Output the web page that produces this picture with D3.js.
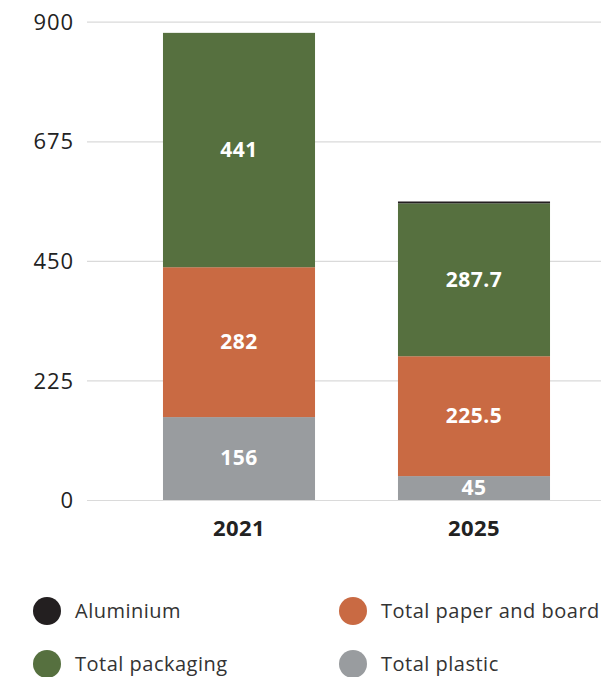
<!DOCTYPE html>
<html>
<head>
<meta charset="utf-8">
<script src="https://cdn.jsdelivr.net/npm/d3@7/dist/d3.min.js"></script>
<style>
  html, body { margin: 0; padding: 0; background: #fff; }
  svg { display: block; }
  text { font-family: "Open Sans", "Noto Sans", sans-serif; }
</style>
</head>
<body>
<svg id="chart" width="601" height="677"></svg>
<script>
// Packaging waste by material (stacked), two reporting years
const years = ["2021", "2025"];
const seriesNames = ["Total plastic", "Total paper and board", "Total packaging", "Aluminium"];
const plastic = [156, 45];
const paper = [282, 225.5];
const packaging = [441, 287.7];
const aluminium = [0, 3.5];
const yTicks = [0, 225, 450, 675, 900];
const colors = ["#999c9f", "#c96a43", "#56703f", "#231f20"];
const legendOrder = ["Aluminium", "Total paper and board", "Total packaging", "Total plastic"];

const svg = d3.select("#chart");

const rows = years.map((yr, i) => ({
  year: yr,
  "Total plastic": plastic[i],
  "Total paper and board": paper[i],
  "Total packaging": packaging[i],
  "Aluminium": aluminium[i]
}));
const stacked = d3.stack().keys(seriesNames)(rows);

const y = d3.scaleLinear().domain([0, 900]).range([500, 21.7]);
const x = d3.scaleBand().domain(years).range([121.5, 591.5])
  .paddingInner(0.353).paddingOuter(0.1765);
const color = d3.scaleOrdinal().domain(seriesNames).range(colors);

// gridlines + y-axis labels
const yAxis = d3.axisLeft(y).tickValues(yTicks).tickSize(-(601 - 87)).tickPadding(13);
const gy = svg.append("g").attr("transform", "translate(87,0)").call(yAxis);
gy.select(".domain").remove();
gy.selectAll(".tick line").attr("stroke", "#dadada").attr("stroke-width", 1.2);
gy.selectAll(".tick text")
  .attr("fill", "#222").attr("font-size", 22).attr("letter-spacing", 0.9)
  .attr("dy", "0.35em");

// stacked bars
const layers = svg.append("g").selectAll("g").data(stacked).join("g")
  .attr("fill", d => color(d.key));
layers.selectAll("rect").data(d => d).join("rect")
  .attr("x", d => x(d.data.year))
  .attr("width", x.bandwidth())
  .attr("y", d => y(d[1]))
  .attr("height", d => y(d[0]) - y(d[1]));

// value labels inside segments
const labelSeries = stacked.filter(s => s.key !== "Aluminium");
svg.append("g").selectAll("g").data(labelSeries).join("g")
  .selectAll("text").data(d => d.map(p => ({ p, key: d.key }))).join("text")
  .attr("x", d => x(d.p.data.year) + x.bandwidth() / 2)
  .attr("y", d => (y(d.p[0]) + y(d.p[1])) / 2)
  .attr("dy", "0.33em")
  .attr("text-anchor", "middle")
  .attr("fill", "#fff")
  .attr("font-weight", 700)
  .attr("font-size", 21)
  .attr("letter-spacing", 0.5)
  .text(d => d.p.data[d.key]);

// x-axis category labels
const xAxis = d3.axisBottom(x).tickSize(0).tickPadding(20);
const gx = svg.append("g").attr("transform", "translate(0,500)").call(xAxis);
gx.select(".domain").remove();
gx.selectAll(".tick text")
  .attr("fill", "#222").attr("font-size", 22).attr("font-weight", 700)
  .attr("letter-spacing", 0.4);

// legend
const legendPos = [[47, 611], [353, 611], [47, 664], [353, 664]];
const legend = svg.append("g").selectAll("g").data(legendOrder).join("g")
  .attr("transform", (d, i) => `translate(${legendPos[i][0]},${legendPos[i][1]})`);
legend.append("circle").attr("r", 14).attr("fill", d => color(d));
legend.append("text")
  .attr("x", 28).attr("dy", "0.35em")
  .attr("font-size", 20).attr("letter-spacing", 0.5).attr("fill", "#333")
  .text(d => d);
</script>
</body>
</html>
